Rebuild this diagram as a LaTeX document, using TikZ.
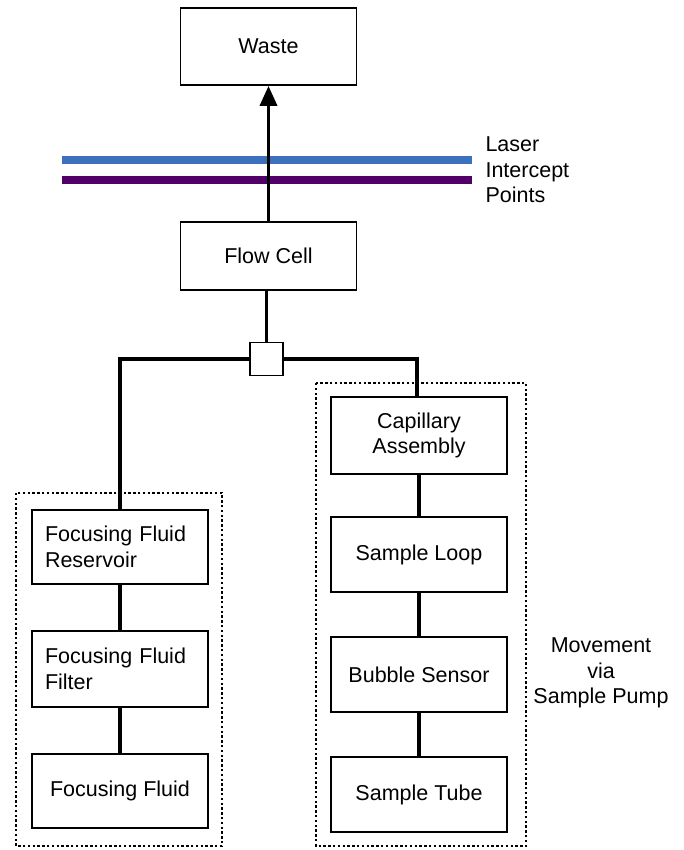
\documentclass[tikz,border=0pt]{standalone}
\usepackage{fontspec}
\setmainfont{Liberation Sans}
\usetikzlibrary{arrows.meta}

\definecolor{laserblue}{RGB}{61,112,189}
\definecolor{laserpurple}{RGB}{80,0,104}

\begin{document}
\begin{tikzpicture}[x=1pt,y=-1pt,
  every node/.style={font=\fontsize{21.5}{25.5}\selectfont},
  unit/.style={draw, line width=1.8pt, minimum width=176pt, minimum height=75pt, align=center, inner sep=0pt},
  pipe/.style={line width=3.6pt},
  group/.style={line width=2.2pt, dash pattern=on 2.4pt off 2.4pt}]

  \useasboundingbox (0,0) rectangle (683,850);

  %% Top: flow cell and waste
  \node[unit, minimum height=77pt] (waste) at (268.5,46.5) {Waste};
  \node[unit, minimum height=68pt] (flowcell) at (268.5,256) {Flow Cell};

  % Laser lines
  \draw[laserblue, line width=8pt] (62,160) -- (472,160);
  \draw[laserpurple, line width=8pt] (62,180) -- (472,180);
  \node[align=left, anchor=west] (laser) at (482,170) {Laser\\Intercept\\Points};

  \draw[pipe, -{Triangle[length=20pt, width=17pt]}] (flowcell.north) -- (waste.south);

  %% Junction
  \node[draw, line width=1.8pt, minimum size=33pt, inner sep=0pt] (junction) at (266.5,359) {};
  \draw[pipe] (flowcell.south -| junction) -- (junction.north);

  %% Left column: focusing fluid
  \draw[group] (16,493) rectangle (222,846);
  \node[unit, align=left, text width=150pt, minimum height=74pt] (reservoir) at (120,547) {Focusing Fluid\\Reservoir};
  \node[unit, align=left, text width=150pt, minimum height=76pt] (filter) at (120,669) {Focusing Fluid\\Filter};
  \node[unit, minimum height=74pt] (fluid) at (120,791) {Focusing Fluid};

  \draw[pipe] (junction.west) -| (reservoir.north);
  \draw[pipe] (reservoir) -- (filter);
  \draw[pipe] (filter) -- (fluid);

  %% Right column: sample path
  \draw[group] (316,383) rectangle (526,846);
  \node[unit, minimum height=77pt] (capillary) at (419,435.5) {Capillary\\Assembly};
  \node[unit] (loop) at (419,554.5) {Sample Loop};
  \node[unit] (bubble) at (419,674.5) {Bubble Sensor};
  \node[unit] (tube) at (419,794.5) {Sample Tube};

  \draw[pipe] (junction.east) -| ([xshift=-2pt]capillary.north);
  \draw[pipe] (capillary) -- (loop);
  \draw[pipe] (loop) -- (bubble);
  \draw[pipe] (bubble) -- (tube);

  \node[align=center] (pump) at (601,673) {Movement\\via\\Sample Pump};

\end{tikzpicture}
\end{document}
